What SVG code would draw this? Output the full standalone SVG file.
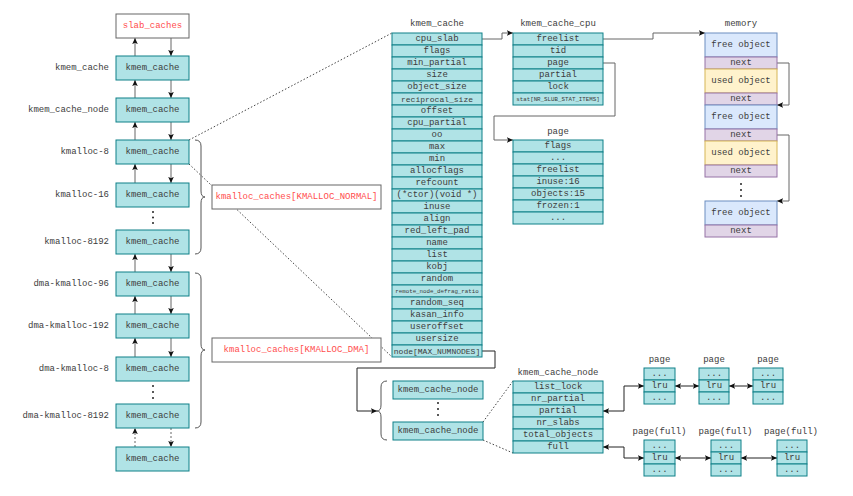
<svg xmlns="http://www.w3.org/2000/svg" width="853" height="496" viewBox="0 0 853 496">
<style>
.c{fill:#b0e3e6;stroke:#0e8088;stroke-width:1}
.w{fill:#fff;stroke:#666;stroke-width:1}
.fo{fill:#dae8fc;stroke:#6c8ebf}
.uo{fill:#fff2cc;stroke:#d6b656}
.nx{fill:#e1d5e7;stroke:#9673a6}
text{font-family:"Liberation Mono","Courier New",monospace;font-size:9px;fill:#3c3c3c;text-anchor:middle;dominant-baseline:central}
.r{text-anchor:end}
.red{fill:#ff4d4d}
.s8{font-size:8px}
.s6{font-size:5.8px}
.ln{fill:none;stroke:#666;stroke-width:1}
.bk{fill:none;stroke:#222;stroke-width:1}
.dt{fill:none;stroke:#444;stroke-width:1;stroke-dasharray:1.5 2}
.br{fill:none;stroke:#555;stroke-width:1}
.dot{fill:#222}
</style>
<defs>
<marker id="a" viewBox="0 0 8 8" refX="7" refY="4" markerWidth="7" markerHeight="7" markerUnits="userSpaceOnUse" orient="auto-start-reverse">
<path d="M0,0.8 L7,4 L0,7.2 L1.5,4 z" fill="#111"/>
</marker>
</defs>

<g id="connectors">
<path class="ln" d="M135,56 V38" marker-end="url(#a)"/>
<path class="ln" d="M171,38 V56" marker-end="url(#a)"/>
<path class="ln" d="M135,98 V80" marker-end="url(#a)"/>
<path class="ln" d="M171,80 V98" marker-end="url(#a)"/>
<path class="ln" d="M135,140 V122" marker-end="url(#a)"/>
<path class="ln" d="M171,122 V140" marker-end="url(#a)"/>
<path class="ln" d="M135,183 V164" marker-end="url(#a)"/>
<path class="ln" d="M171,164 V183" marker-end="url(#a)"/>
<path class="ln" d="M135,272 V254" marker-end="url(#a)"/>
<path class="ln" d="M171,254 V272" marker-end="url(#a)"/>
<path class="ln" d="M135,314 V296" marker-end="url(#a)"/>
<path class="ln" d="M171,296 V314" marker-end="url(#a)"/>
<path class="ln" d="M135,357 V338" marker-end="url(#a)"/>
<path class="ln" d="M171,338 V357" marker-end="url(#a)"/>
<path class="ln" d="M135,447 V428" stroke-dasharray="2 2" marker-end="url(#a)"/>
<path class="ln" d="M171,428 V447" stroke-dasharray="2 2" marker-end="url(#a)"/>
<path class="br" d="M195,140 Q201,140 201,146 V191 Q201,197 205,197 Q201,197 201,203 V248 Q201,254 195,254"/>
<path class="br" d="M195,273 Q201,273 201,279 V344 Q201,350 205,350 Q201,350 201,356 V422 Q201,428 195,428"/>
<path class="br" d="M387,381 Q381,381 381,387 V405 Q381,411 377,411 Q381,411 381,417 V434 Q381,440 387,440"/>
<path class="dt" d="M189,140 L392,33"/>
<path class="dt" d="M189,164 L392,357"/>
<path class="dt" d="M483,422 L513,381"/>
<path class="dt" d="M483,440 L513,453"/>
<path class="ln" d="M482,39 H502 V33 H513" marker-end="url(#a)"/>
<path class="ln" d="M603,39 H653 V33 H705" marker-end="url(#a)"/>
<path class="ln" d="M603,63 H615 V116 H494 V140 H513" marker-end="url(#a)"/>
<path class="ln" d="M777,63 H789 V105 H777" marker-end="url(#a)"/>
<path class="ln" d="M777,135 H789 V201 H777" marker-end="url(#a)"/>
<path class="bk" d="M482,351 H495 V368 H357 V411 H377" marker-end="url(#a)"/>
<path class="bk" d="M603,411 H624 V386 H644" marker-start="url(#a)" marker-end="url(#a)"/>
<path class="bk" d="M675,386 H699" marker-start="url(#a)" marker-end="url(#a)"/>
<path class="bk" d="M729,386 H753" marker-start="url(#a)" marker-end="url(#a)"/>
<path class="bk" d="M603,447 H624 V458 H644" marker-start="url(#a)" marker-end="url(#a)"/>
<path class="bk" d="M675,458 H711" marker-start="url(#a)" marker-end="url(#a)"/>
<path class="bk" d="M741,458 H777" marker-start="url(#a)" marker-end="url(#a)"/>
</g>

<g id="slab_caches"><rect class="w" x="116" y="14" width="73" height="24"/><text class="red" x="152.5" y="26">slab_caches</text></g>
<g id="kc1"><rect class="c" x="116" y="56" width="73" height="24"/><text x="152.5" y="68">kmem_cache</text><text class="r" x="109" y="68">kmem_cache</text></g>
<g id="kc2"><rect class="c" x="116" y="98" width="73" height="24"/><text x="152.5" y="110">kmem_cache</text><text class="r" x="109" y="110">kmem_cache_node</text></g>
<g id="kc3"><rect class="c" x="116" y="140" width="73" height="24"/><text x="152.5" y="152">kmem_cache</text><text class="r" x="109" y="152">kmalloc-8</text></g>
<g id="kc4"><rect class="c" x="116" y="183" width="73" height="24"/><text x="152.5" y="195">kmem_cache</text><text class="r" x="109" y="195">kmalloc-16</text></g>
<g id="dots1"><circle class="dot" cx="153" cy="212" r="1"/><circle class="dot" cx="153" cy="217.5" r="1"/><circle class="dot" cx="153" cy="223" r="1"/></g>
<g id="kc5"><rect class="c" x="116" y="230" width="73" height="24"/><text x="152.5" y="242">kmem_cache</text><text class="r" x="109" y="242">kmalloc-8192</text></g>
<g id="kc6"><rect class="c" x="116" y="272" width="73" height="24"/><text x="152.5" y="284">kmem_cache</text><text class="r" x="109" y="284">dma-kmalloc-96</text></g>
<g id="kc7"><rect class="c" x="116" y="314" width="73" height="24"/><text x="152.5" y="326">kmem_cache</text><text class="r" x="109" y="326">dma-kmalloc-192</text></g>
<g id="kc8"><rect class="c" x="116" y="357" width="73" height="24"/><text x="152.5" y="369">kmem_cache</text><text class="r" x="109" y="369">dma-kmalloc-8</text></g>
<g id="dots2"><circle class="dot" cx="153" cy="386" r="1"/><circle class="dot" cx="153" cy="392" r="1"/><circle class="dot" cx="153" cy="398" r="1"/></g>
<g id="kc9"><rect class="c" x="116" y="404" width="73" height="24"/><text x="152.5" y="416">kmem_cache</text><text class="r" x="109" y="416">dma-kmalloc-8192</text></g>
<g id="kc10"><rect class="c" x="116" y="447" width="73" height="24"/><text x="152.5" y="459">kmem_cache</text></g>

<g id="kmalloc_normal"><rect class="w" x="212" y="185" width="169" height="24"/><text class="red" x="296.5" y="197">kmalloc_caches[KMALLOC_NORMAL]</text></g>
<g id="kmalloc_dma"><rect class="w" x="212" y="338" width="169" height="24"/><text class="red" x="296.5" y="350">kmalloc_caches[KMALLOC_DMA]</text></g>

<g id="kmem_cache_table">
<text x="437" y="24">kmem_cache</text>
<rect class="c" x="392" y="33" width="90" height="12"/><text x="437" y="39">cpu_slab</text>
<rect class="c" x="392" y="45" width="90" height="12"/><text x="437" y="51">flags</text>
<rect class="c" x="392" y="57" width="90" height="12"/><text x="437" y="63">min_partial</text>
<rect class="c" x="392" y="69" width="90" height="12"/><text x="437" y="75">size</text>
<rect class="c" x="392" y="81" width="90" height="12"/><text x="437" y="87">object_size</text>
<rect class="c" x="392" y="93" width="90" height="12"/><text class="s8" x="437" y="99">reciprocal_size</text>
<rect class="c" x="392" y="105" width="90" height="12"/><text x="437" y="111">offset</text>
<rect class="c" x="392" y="117" width="90" height="12"/><text x="437" y="123">cpu_partial</text>
<rect class="c" x="392" y="129" width="90" height="12"/><text x="437" y="135">oo</text>
<rect class="c" x="392" y="141" width="90" height="12"/><text x="437" y="147">max</text>
<rect class="c" x="392" y="153" width="90" height="12"/><text x="437" y="159">min</text>
<rect class="c" x="392" y="165" width="90" height="12"/><text x="437" y="171">allocflags</text>
<rect class="c" x="392" y="177" width="90" height="12"/><text x="437" y="183">refcount</text>
<rect class="c" x="392" y="189" width="90" height="12"/><text x="437" y="195">(*ctor)(void *)</text>
<rect class="c" x="392" y="201" width="90" height="12"/><text x="437" y="207">inuse</text>
<rect class="c" x="392" y="213" width="90" height="12"/><text x="437" y="219">align</text>
<rect class="c" x="392" y="225" width="90" height="12"/><text x="437" y="231">red_left_pad</text>
<rect class="c" x="392" y="237" width="90" height="12"/><text x="437" y="243">name</text>
<rect class="c" x="392" y="249" width="90" height="12"/><text x="437" y="255">list</text>
<rect class="c" x="392" y="261" width="90" height="12"/><text x="437" y="267">kobj</text>
<rect class="c" x="392" y="273" width="90" height="12"/><text x="437" y="279">random</text>
<rect class="c" x="392" y="285" width="90" height="12"/><text class="s6" x="437" y="291">remote_node_defrag_ratio</text>
<rect class="c" x="392" y="297" width="90" height="12"/><text x="437" y="303">random_seq</text>
<rect class="c" x="392" y="309" width="90" height="12"/><text x="437" y="315">kasan_info</text>
<rect class="c" x="392" y="321" width="90" height="12"/><text x="437" y="327">useroffset</text>
<rect class="c" x="392" y="333" width="90" height="12"/><text x="437" y="339">usersize</text>
<rect class="c" x="392" y="345" width="90" height="12"/><text class="s8" x="437" y="351">node[MAX_NUMNODES]</text>
</g>

<g id="kmem_cache_cpu">
<text x="558" y="24">kmem_cache_cpu</text>
<rect class="c" x="513" y="33" width="90" height="12"/><text x="558" y="39">freelist</text>
<rect class="c" x="513" y="45" width="90" height="12"/><text x="558" y="51">tid</text>
<rect class="c" x="513" y="57" width="90" height="12"/><text x="558" y="63">page</text>
<rect class="c" x="513" y="69" width="90" height="12"/><text x="558" y="75">partial</text>
<rect class="c" x="513" y="81" width="90" height="12"/><text x="558" y="87">lock</text>
<rect class="c" x="513" y="93" width="90" height="12"/><text class="s6" x="558" y="99">stat[NR_SLUB_STAT_ITEMS]</text>
</g>

<g id="page_cpu">
<text x="558" y="132">page</text>
<rect class="c" x="513" y="140" width="90" height="12"/><text x="558" y="146">flags</text>
<rect class="c" x="513" y="152" width="90" height="12"/><text x="558" y="158">...</text>
<rect class="c" x="513" y="164" width="90" height="12"/><text x="558" y="170">freelist</text>
<rect class="c" x="513" y="176" width="90" height="12"/><text x="558" y="182">inuse:16</text>
<rect class="c" x="513" y="188" width="90" height="12"/><text x="558" y="194">objects:15</text>
<rect class="c" x="513" y="200" width="90" height="12"/><text x="558" y="206">frozen:1</text>
<rect class="c" x="513" y="212" width="90" height="12"/><text x="558" y="218">...</text>
</g>

<g id="memory">
<text x="741" y="24">memory</text>
<rect class="fo" x="705" y="33" width="72" height="24"/><text x="741" y="45">free object</text>
<rect class="nx" x="705" y="57" width="72" height="12"/><text x="741" y="63">next</text>
<rect class="uo" x="705" y="69" width="72" height="24"/><text x="741" y="81">used object</text>
<rect class="nx" x="705" y="93" width="72" height="12"/><text x="741" y="99">next</text>
<rect class="fo" x="705" y="105" width="72" height="24"/><text x="741" y="117">free object</text>
<rect class="nx" x="705" y="129" width="72" height="12"/><text x="741" y="135">next</text>
<rect class="uo" x="705" y="141" width="72" height="24"/><text x="741" y="153">used object</text>
<rect class="nx" x="705" y="165" width="72" height="12"/><text x="741" y="171">next</text>
<circle class="dot" cx="741" cy="184" r="1"/><circle class="dot" cx="741" cy="190" r="1"/><circle class="dot" cx="741" cy="196" r="1"/>
<rect class="fo" x="705" y="201" width="72" height="24"/><text x="741" y="213">free object</text>
<rect class="nx" x="705" y="225" width="72" height="12"/><text x="741" y="231">next</text>
</g>

<g id="kcn1"><rect class="c" x="393" y="381" width="90" height="18"/><text x="438" y="390">kmem_cache_node</text></g>
<g id="dots3"><circle class="dot" cx="438" cy="403" r="1"/><circle class="dot" cx="438" cy="409" r="1"/><circle class="dot" cx="438" cy="415" r="1"/></g>
<g id="kcn2"><rect class="c" x="393" y="422" width="90" height="18"/><text x="438" y="431">kmem_cache_node</text></g>

<g id="kmem_cache_node_table">
<text x="558" y="373">kmem_cache_node</text>
<rect class="c" x="513" y="381" width="90" height="12"/><text x="558" y="387">list_lock</text>
<rect class="c" x="513" y="393" width="90" height="12"/><text x="558" y="399">nr_partial</text>
<rect class="c" x="513" y="405" width="90" height="12"/><text x="558" y="411">partial</text>
<rect class="c" x="513" y="417" width="90" height="12"/><text x="558" y="423">nr_slabs</text>
<rect class="c" x="513" y="429" width="90" height="12"/><text x="558" y="435">total_objects</text>
<rect class="c" x="513" y="441" width="90" height="12"/><text x="558" y="447">full</text>
</g>

<g id="page1"><text x="659.5" y="360">page</text>
<rect class="c" x="644" y="368" width="31" height="12"/><text x="659.5" y="374">...</text>
<rect class="c" x="644" y="380" width="31" height="12"/><text x="659.5" y="386">lru</text>
<rect class="c" x="644" y="392" width="31" height="12"/><text x="659.5" y="398">...</text></g>
<g id="page2"><text x="714" y="360">page</text>
<rect class="c" x="699" y="368" width="30" height="12"/><text x="714" y="374">...</text>
<rect class="c" x="699" y="380" width="30" height="12"/><text x="714" y="386">lru</text>
<rect class="c" x="699" y="392" width="30" height="12"/><text x="714" y="398">...</text></g>
<g id="page3"><text x="768" y="360">page</text>
<rect class="c" x="753" y="368" width="30" height="12"/><text x="768" y="374">...</text>
<rect class="c" x="753" y="380" width="30" height="12"/><text x="768" y="386">lru</text>
<rect class="c" x="753" y="392" width="30" height="12"/><text x="768" y="398">...</text></g>

<g id="pagefull1"><text x="659.5" y="432">page(full)</text>
<rect class="c" x="644" y="440" width="31" height="12"/><text x="659.5" y="446">...</text>
<rect class="c" x="644" y="452" width="31" height="12"/><text x="659.5" y="458">lru</text>
<rect class="c" x="644" y="464" width="31" height="12"/><text x="659.5" y="470">...</text></g>
<g id="pagefull2"><text x="725.5" y="432">page(full)</text>
<rect class="c" x="711" y="440" width="30" height="12"/><text x="726" y="446">...</text>
<rect class="c" x="711" y="452" width="30" height="12"/><text x="726" y="458">lru</text>
<rect class="c" x="711" y="464" width="30" height="12"/><text x="726" y="470">...</text></g>
<g id="pagefull3"><text x="791" y="432">page(full)</text>
<rect class="c" x="777" y="440" width="30" height="12"/><text x="792" y="446">...</text>
<rect class="c" x="777" y="452" width="30" height="12"/><text x="792" y="458">lru</text>
<rect class="c" x="777" y="464" width="30" height="12"/><text x="792" y="470">...</text></g>
</svg>
